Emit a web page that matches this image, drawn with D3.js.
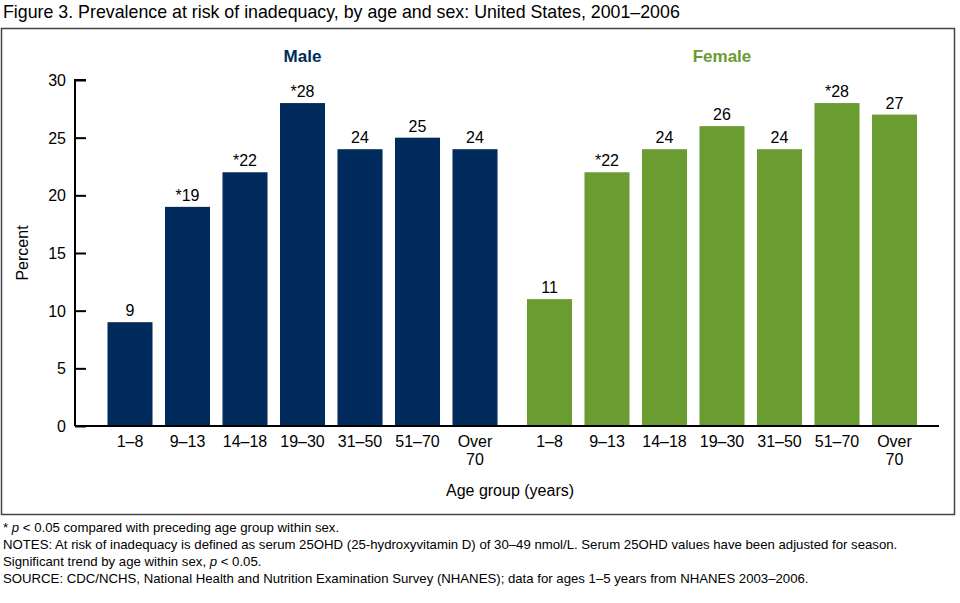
<!DOCTYPE html>
<html><head><meta charset="utf-8">
<script src="https://cdn.jsdelivr.net/npm/d3@7"></script>
<style>body{margin:0;background:#fff;}svg{display:block;font-family:"Liberation Sans",Arial,sans-serif;}</style>
</head><body><svg id="c" width="960" height="603"></svg>
<script>
const groups = ["Male", "Female"];
const ageGroups = ["1–8", "9–13", "14–18", "19–30", "31–50", "51–70", "Over 70"];
const maleValues = [9, 19, 22, 28, 24, 25, 24];
const femaleValues = [11, 22, 24, 26, 24, 28, 27];
const maleLabels = ["9", "*19", "*22", "*28", "24", "25", "24"];
const femaleLabels = ["11", "*22", "24", "26", "24", "*28", "27"];
const yTicks = [0, 5, 10, 15, 20, 25, 30];
const groupColors = ["#002B5C", "#6A9C32"];
const footnotes = [
  ["* ", "p", " < 0.05 compared with preceding age group within sex."],
  ["NOTES: At risk of inadequacy is defined as serum 25OHD (25-hydroxyvitamin D) of 30–49 nmol/L. Serum 25OHD values have been adjusted for season."],
  ["Significant trend by age within sex, ", "p", " < 0.05."],
  ["SOURCE: CDC/NCHS, National Health and Nutrition Examination Survey (NHANES); data for ages 1–5 years from NHANES 2003–2006."]
];

const svg = d3.select("#c");
svg.append("text").attr("x", 3).attr("y", 18).attr("font-size", 17.8).attr("fill", "#000")
  .text("Figure 3. Prevalence at risk of inadequacy, by age and sex: United States, 2001–2006");
svg.append("rect").attr("x", 1.5).attr("y", 28.5).attr("width", 953).attr("height", 486)
  .attr("fill", "none").attr("stroke", "#444").attr("stroke-width", 1.5);

const y = d3.scaleLinear().domain([0, 30]).range([426, 80]);
const gx = d3.scaleBand().domain(groups).range([101.25, 923.25]).paddingInner(0.0405);
const x = d3.scaleBand().domain(ageGroups).range([0, gx.bandwidth()]).paddingInner(0.217).paddingOuter(0.1085);

const data = [
  {g: "Male", vals: maleValues, labels: maleLabels, color: groupColors[0]},
  {g: "Female", vals: femaleValues, labels: femaleLabels, color: groupColors[1]}
];

data.forEach(d => {
  const gg = svg.append("g").attr("transform", `translate(${gx(d.g)},0)`);
  gg.selectAll("rect.bar").data(ageGroups).join("rect").attr("class", "bar")
    .attr("x", a => x(a)).attr("width", x.bandwidth())
    .attr("y", (a, i) => y(d.vals[i])).attr("height", (a, i) => y(0) - y(d.vals[i]))
    .attr("fill", d.color);
  gg.selectAll("text.val").data(ageGroups).join("text").attr("class", "val")
    .attr("x", a => x(a) + x.bandwidth() / 2).attr("y", (a, i) => y(d.vals[i]) - 6)
    .attr("text-anchor", "middle").attr("font-size", 16).text((a, i) => d.labels[i]);
  gg.append("text").attr("x", gx.bandwidth() / 2).attr("y", 62).attr("text-anchor", "middle")
    .attr("font-size", 17).attr("font-weight", "bold").attr("fill", d.color).text(d.g);
  const ax = gg.append("g").attr("transform", `translate(0,${y(0)})`);
  ageGroups.forEach(a => {
    const parts = a === "Over 70" ? ["Over", "70"] : [a];
    const t = ax.append("text").attr("text-anchor", "middle").attr("font-size", 16);
    parts.forEach((p, k) => t.append("tspan").attr("x", x(a) + x.bandwidth() / 2).attr("y", 21 + k * 18).text(p));
  });
});

// baseline
svg.append("line").attr("x1", 75).attr("x2", 939).attr("y1", y(0)).attr("y2", y(0)).attr("stroke", "#000").attr("stroke-width", 2);
const yAxis = svg.append("g").attr("transform", "translate(75,0)")
  .call(d3.axisRight(y).tickValues(yTicks).tickSize(11).tickFormat(""));
yAxis.select(".domain").attr("stroke-width", 2).attr("d", `M11,${y(30)}H0V${y(0)}`);
yAxis.selectAll(".tick line").attr("stroke-width", 2);
svg.append("g").selectAll("text").data(yTicks).join("text")
  .attr("x", 66).attr("y", v => y(v) + 6).attr("text-anchor", "end").attr("font-size", 16).text(v => v);

svg.append("text").attr("transform", `translate(28,${y(15)}) rotate(-90)`).attr("text-anchor", "middle")
  .attr("font-size", 16).text("Percent");
svg.append("text").attr("x", 510).attr("y", 496).attr("text-anchor", "middle").attr("font-size", 16)
  .text("Age group (years)");

footnotes.forEach((parts, i) => {
  const t = svg.append("text").attr("x", 3).attr("y", 532 + i * 17).attr("font-size", 13.2);
  parts.forEach(p => t.append("tspan").attr("font-style", p === "p" ? "italic" : null).text(p));
});
</script></body></html>
